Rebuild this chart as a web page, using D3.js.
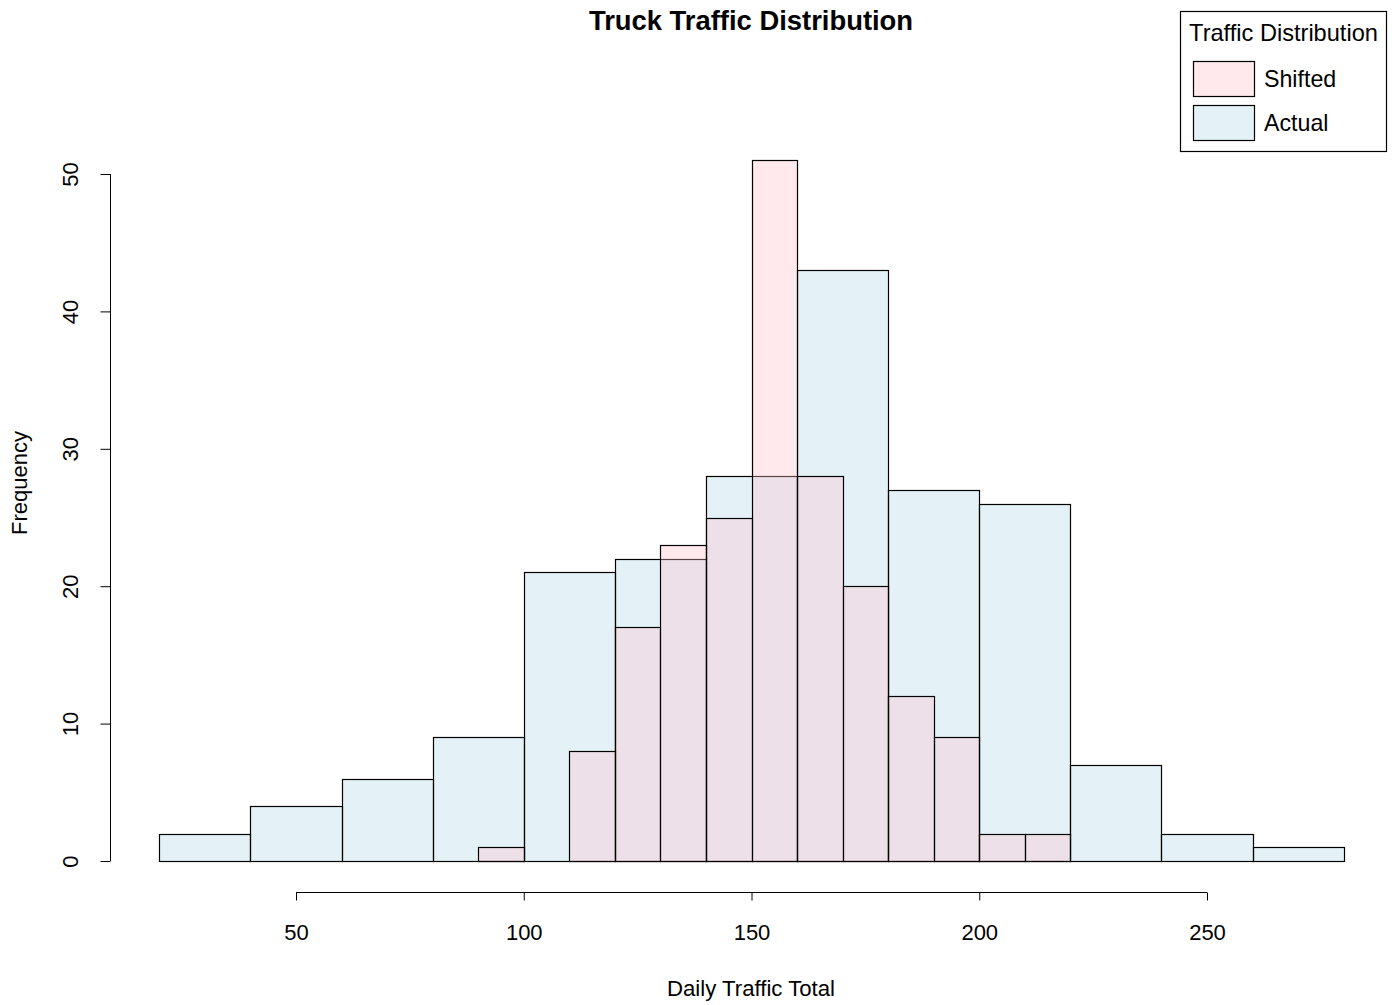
<!DOCTYPE html>
<html>
<head>
<meta charset="utf-8">
<script src="https://cdn.jsdelivr.net/npm/d3@7"></script>
<style>
  html, body { margin: 0; padding: 0; background: #fff; }
  svg { display: block; font-family: "Liberation Sans", Arial, sans-serif; }
</style>
</head>
<body>
<svg id="chart" width="1396" height="1005"></svg>
<script>
// Histogram of actual daily truck counts (bin width 20)
const actualBreaks = [20, 40, 60, 80, 100, 120, 140, 160, 180, 200, 220, 240, 260, 280];
const actualCounts = [2, 4, 6, 9, 21, 22, 28, 43, 27, 26, 7, 2, 1];

// Histogram of shifted daily truck counts (bin width 10)
const shiftedBreaks = [90, 100, 110, 120, 130, 140, 150, 160, 170, 180, 190, 200, 210, 220];
const shiftedCounts = [1, 0, 8, 17, 23, 25, 51, 28, 20, 12, 9, 2, 2];

const xTicks = [50, 100, 150, 200, 250];
const yTicks = [0, 10, 20, 30, 40, 50];

const legendTitle = "Traffic Distribution";
const legendLabels = ["Shifted", "Actual"];

const actualFill = "rgba(173,216,230,0.33)";
const shiftedFill = "rgba(255,192,203,0.35)";

const svg = d3.select("#chart");

const x = d3.scaleLinear().domain([50, 250]).range([296, 1207]);
const y = d3.scaleLinear().domain([0, 50]).range([861, 174]);

function toBins(breaks, counts) {
  return counts.map((c, i) => ({ lo: breaks[i], hi: breaks[i + 1], n: c }));
}

function drawHist(bins, fill) {
  svg.append("g")
    .selectAll("rect")
    .data(bins)
    .join("rect")
    .attr("x", d => Math.round(x(d.lo)) + 0.5)
    .attr("y", d => Math.round(y(d.n)) + 0.5)
    .attr("width", d => Math.round(x(d.hi)) - Math.round(x(d.lo)))
    .attr("height", d => Math.round(y(0)) - Math.round(y(d.n)))
    .attr("fill", fill)
    .attr("stroke", "#000")
    .attr("stroke-width", 1.2);
}

drawHist(toBins(actualBreaks, actualCounts), actualFill);
drawHist(toBins(shiftedBreaks, shiftedCounts), shiftedFill);

// x axis, offset below the plot region
const xAxis = svg.append("g")
  .attr("transform", "translate(0,892.5)")
  .call(d3.axisBottom(x).tickValues(xTicks).tickSize(8).tickPadding(24).tickFormat(d3.format("d")));
xAxis.select(".domain").attr("stroke", "#000").attr("d", `M${x(50)},0H${x(250)}`);
xAxis.selectAll(".tick line").attr("stroke", "#000");
xAxis.selectAll(".tick text")
  .attr("fill", "#000")
  .style("font-size", "22px")
  .style("font-family", "Liberation Sans, Arial, sans-serif");

// y axis with rotated tick labels
const yAxis = svg.append("g")
  .attr("transform", "translate(110.5,0)")
  .call(d3.axisLeft(y).tickValues(yTicks).tickSize(10).tickFormat(d3.format("d")));
yAxis.select(".domain").attr("stroke", "#000").attr("d", `M0,${y(0)}V${y(50)}`);
yAxis.selectAll(".tick line").attr("stroke", "#000");
yAxis.selectAll(".tick text")
  .attr("fill", "#000")
  .attr("x", null).attr("dy", null)
  .attr("text-anchor", "middle")
  .attr("transform", "translate(-40,0) rotate(-90)")
  .attr("dy", "0.35em")
  .style("font-size", "22px")
  .style("font-family", "Liberation Sans, Arial, sans-serif");

// Titles
svg.append("text")
  .attr("x", 751).attr("y", 30)
  .attr("text-anchor", "middle")
  .style("font-size", "27.4px").style("font-weight", "bold")
  .text("Truck Traffic Distribution");

svg.append("text")
  .attr("x", 751).attr("y", 996)
  .attr("text-anchor", "middle")
  .style("font-size", "22.2px")
  .text("Daily Traffic Total");

svg.append("text")
  .attr("transform", "translate(27,483) rotate(-90)")
  .attr("text-anchor", "middle")
  .style("font-size", "22px")
  .text("Frequency");

// Legend
const lg = svg.append("g");
lg.append("rect")
  .attr("x", 1180.5).attr("y", 11.5).attr("width", 206).attr("height", 140)
  .attr("fill", "#fff").attr("stroke", "#000").attr("stroke-width", 1.2);
lg.append("text")
  .attr("x", 1283.5).attr("y", 41)
  .attr("text-anchor", "middle")
  .style("font-size", "23.6px")
  .text(legendTitle);
const legendFills = [shiftedFill, actualFill];
legendLabels.forEach((lab, i) => {
  const top = 61 + i * 44;
  lg.append("rect")
    .attr("x", 1193.5).attr("y", top + 0.5).attr("width", 61).attr("height", 35)
    .attr("fill", legendFills[i]).attr("stroke", "#000").attr("stroke-width", 1.2);
  lg.append("text")
    .attr("x", 1264).attr("y", top + 26)
    .style("font-size", "23.2px")
    .text(lab);
});
</script>
</body>
</html>
